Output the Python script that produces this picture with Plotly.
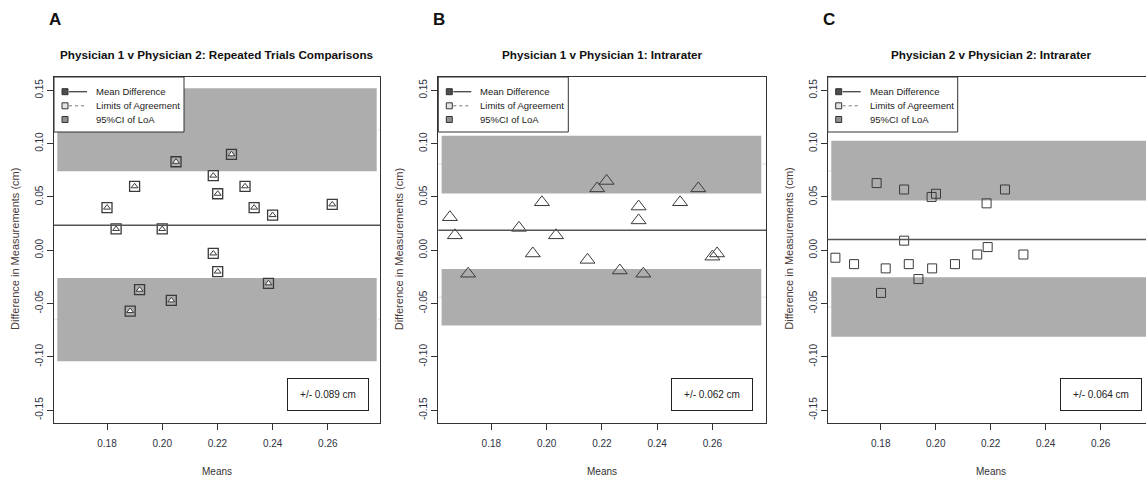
import plotly.graph_objects as go

# ---------------- data ----------------
panel_letters = ["A", "B", "C"]
panel_titles = [
    "Physician 1 v Physician 2: Repeated Trials Comparisons",
    "Physician 1 v Physician 1: Intrarater",
    "Physician 2 v Physician 2: Intrarater",
]

a_means = [0.180, 0.1833, 0.190, 0.200, 0.205, 0.2185, 0.2201, 0.2251, 0.230, 0.2333,
           0.240, 0.2616, 0.2185, 0.2201, 0.1918, 0.1884, 0.2033, 0.2385]
a_diffs = [0.040, 0.020, 0.060, 0.020, 0.083, 0.070, 0.053, 0.090, 0.060, 0.040,
           0.033, 0.043, -0.003, -0.020, -0.037, -0.057, -0.047, -0.031]

b_means = [0.165, 0.1668, 0.190, 0.1983, 0.2034, 0.2183, 0.2217, 0.2333, 0.2333, 0.2483,
           0.2549, 0.1716, 0.195, 0.2148, 0.2265, 0.235, 0.260, 0.2617]
b_diffs = [0.031, 0.014, 0.021, 0.045, 0.014, 0.058, 0.065, 0.041, 0.028, 0.045,
           0.058, -0.022, -0.003, -0.009, -0.019, -0.022, -0.006, -0.003]

c_means = [0.1785, 0.1885, 0.1985, 0.2001, 0.2185, 0.2252, 0.1885, 0.1635, 0.1703, 0.1818,
           0.1801, 0.1902, 0.1937, 0.1987, 0.207, 0.2151, 0.2189, 0.2319]
c_diffs = [0.063, 0.057, 0.050, 0.053, 0.044, 0.057, 0.009, -0.007, -0.013, -0.017,
           -0.040, -0.013, -0.027, -0.017, -0.013, -0.004, 0.003, -0.004]

mean_diff = [0.0234, 0.0188, 0.0100]
loa_upper = [0.113, 0.081, 0.0745]
loa_lower = [-0.065, -0.0440, -0.0535]
ci_upper = [[0.074, 0.152], [0.0532, 0.1075], [0.0466, 0.1028]]
ci_lower = [[-0.104, -0.026], [-0.0706, -0.0175], [-0.0812, -0.0253]]
ci_x = [0.162, 0.2777]
loa_text = ["+/- 0.089 cm", "+/- 0.062 cm", "+/- 0.064 cm"]

x_tickvals = [0.18, 0.20, 0.22, 0.24, 0.26]
x_ticktext = ["0.18", "0.20", "0.22", "0.24", "0.26"]
y_tickvals = [-0.15, -0.10, -0.05, 0.00, 0.05, 0.10, 0.15]
y_ticktext = ["-0.15", "-0.10", "-0.05", "0.00", "0.05", "0.10", "0.15"]
x_ranges = [[0.1608, 0.2789], [0.1608, 0.2794], [0.1607, 0.2765]]
y_range = [-0.162, 0.1625]

legend_labels = ["Mean Difference", "Limits of Agreement", "95%CI of LoA"]
x_title = "Means"
y_title = "Difference in Measurements (cm)"

# ---------------- layout constants (pixels) ----------------
W, H = 1146, 479
px_left = [54, 438.3, 827.7]
px_right = [380, 766, 1155]     # panel C runs past the window edge
px_top, px_bot = 77, 423

def fx(p):
    return p / W

def fy(p):
    return 1 - p / H

FONT = "Liberation Sans, Arial, sans-serif"
INK = "#333333"
TICK_INK = "#2e3242"
BAND = "#adadad"

fig = go.Figure()

series = [(a_means, a_diffs), (b_means, b_diffs), (c_means, c_diffs)]

for i in range(3):
    xa = "x" if i == 0 else f"x{i+1}"
    ya = "y" if i == 0 else f"y{i+1}"
    mx, dy = series[i]
    if i == 0:
        fig.add_trace(go.Scatter(x=mx, y=dy, mode="markers", xaxis=xa, yaxis=ya,
                                 showlegend=False, hoverinfo="skip",
                                 marker=dict(symbol="square-open", size=10, color="#3a3a3a",
                                             line=dict(width=1.3))))
        fig.add_trace(go.Scatter(x=mx, y=dy, mode="markers", xaxis=xa, yaxis=ya,
                                 showlegend=False, hoverinfo="skip",
                                 marker=dict(symbol="triangle-up", size=6, color="white",
                                             line=dict(width=1, color="#3a3a3a"))))
    elif i == 1:
        fig.add_trace(go.Scatter(x=mx, y=dy, mode="markers", xaxis=xa, yaxis=ya,
                                 showlegend=False, hoverinfo="skip",
                                 marker=dict(symbol="triangle-up-open", size=13, color="#3a3a3a",
                                             line=dict(width=1))))
    else:
        fig.add_trace(go.Scatter(x=mx, y=dy, mode="markers", xaxis=xa, yaxis=ya,
                                 showlegend=False, hoverinfo="skip",
                                 marker=dict(symbol="square-open", size=9, color="#3a3a3a",
                                             line=dict(width=1))))

    # CI bands
    for lo, hi in (ci_upper[i], ci_lower[i]):
        fig.add_shape(type="rect", xref=xa, yref=ya, x0=ci_x[0], x1=ci_x[1], y0=lo, y1=hi,
                      fillcolor=BAND, line=dict(width=0), layer="below")
    # LoA dashed lines
    for v in (loa_upper[i], loa_lower[i]):
        fig.add_shape(type="line", xref=f"{xa} domain", yref=ya, x0=0, x1=1, y0=v, y1=v,
                      line=dict(color="#e9e9e9", width=1.5, dash="dash"), layer="below")
    # mean line
    fig.add_shape(type="line", xref=f"{xa} domain", yref=ya, x0=0, x1=1,
                  y0=mean_diff[i], y1=mean_diff[i],
                  line=dict(color="#555555", width=1.5), layer="above")

    # axes
    dom_x = [fx(px_left[i]), min(1.0, fx(px_right[i]))]
    xkey = "xaxis" if i == 0 else f"xaxis{i+1}"
    ykey = "yaxis" if i == 0 else f"yaxis{i+1}"
    fig.update_layout(**{
        xkey: dict(domain=dom_x, range=x_ranges[i], anchor=ya,
                   tickvals=x_tickvals, ticktext=x_ticktext,
                   ticks="outside", ticklen=6, tickcolor=INK, tickwidth=1,
                   ticklabelstandoff=5,
                   showline=True, linecolor=INK, linewidth=1, mirror=True,
                   showgrid=False, zeroline=False,
                   tickfont=dict(family=FONT, size=10, color=TICK_INK)),
        ykey: dict(domain=[fy(px_bot), fy(px_top)], range=y_range, anchor=xa,
                   tickvals=y_tickvals, ticktext=y_ticktext, tickangle=-90,
                   ticks="outside", ticklen=6, tickcolor=INK, tickwidth=1,
                   showline=True, linecolor=INK, linewidth=1, mirror=(i < 2),
                   showgrid=False, zeroline=False,
                   tickfont=dict(family=FONT, size=10, color=TICK_INK)),
    })

    L = px_left[i]
    # ---- legend box (R style: square key, then line) ----
    fig.add_shape(type="rect", xref="paper", yref="paper",
                  x0=fx(L), x1=fx(L + 130), y0=fy(132), y1=fy(px_top),
                  fillcolor="white", line=dict(color=INK, width=1), layer="above")
    rows = [91.7, 105.8, 119.5]
    key_fill = ["#4d4d4d", "#e4e4e4", "#8f8f8f"]
    key_line = [dict(color="#444444", width=1.3), dict(color="#777777", width=1, dash="dot"), None]
    for r, lab, kf, kl in zip(rows, legend_labels, key_fill, key_line):
        fig.add_shape(type="rect", xref="paper", yref="paper",
                      x0=fx(L + 8), x1=fx(L + 14), y0=fy(r + 3), y1=fy(r - 3),
                      fillcolor=kf, line=dict(color="#333333", width=1), layer="above")
        if kl is not None:
            fig.add_shape(type="line", xref="paper", yref="paper",
                          x0=fx(L + 15), x1=fx(L + 33), y0=fy(r), y1=fy(r),
                          line=kl, layer="above")
        fig.add_annotation(xref="paper", yref="paper", x=fx(L + 40), y=fy(r),
                           text=lab, showarrow=False, xanchor="left", yanchor="middle",
                           font=dict(family=FONT, size=9.5, color="#222222"))

    cx = (px_left[i] + px_right[i]) / 2
    # panel letter
    fig.add_annotation(xref="paper", yref="paper", x=fx(L - 7), y=fy(19),
                       text=f"<b>{panel_letters[i]}</b>", showarrow=False,
                       xanchor="left", yanchor="middle",
                       font=dict(family=FONT, size=17, color="#111111"))
    # panel title
    fig.add_annotation(xref="paper", yref="paper", x=fx(cx), y=fy(55),
                       text=f"<b>{panel_titles[i]}</b>", showarrow=False,
                       xanchor="center", yanchor="middle",
                       font=dict(family=FONT, size=11.7, color="#111111"))
    # x title
    fig.add_annotation(xref="paper", yref="paper", x=fx(cx), y=fy(471.5),
                       text=x_title, showarrow=False, xanchor="center", yanchor="middle",
                       font=dict(family=FONT, size=10, color="#333333"))
    # y title
    fig.add_annotation(xref="paper", yref="paper", x=fx(L - 39), y=fy(249),
                       text=y_title, showarrow=False, textangle=-90,
                       xanchor="center", yanchor="middle",
                       font=dict(family=FONT, size=11, color="#4a3a3a"))
    # bottom-right LoA box
    bx = [327.5, 712.2, 1100.8][i]
    fig.add_annotation(xref="paper", yref="paper", x=fx(bx), y=fy(394.3),
                       text=loa_text[i], showarrow=False, xanchor="center", yanchor="middle",
                       width=74, height=25, borderpad=3, bgcolor="white",
                       bordercolor="#222222", borderwidth=1,
                       font=dict(family=FONT, size=10, color="#222222"))

fig.update_layout(width=W, height=H, margin=dict(l=0, r=0, t=0, b=0),
                  paper_bgcolor="white", plot_bgcolor="white", showlegend=False)

fig.write_html("out.html", config={"displayModeBar": False},
               post_script="document.body.style.margin='0px';document.body.style.overflow='hidden';")
